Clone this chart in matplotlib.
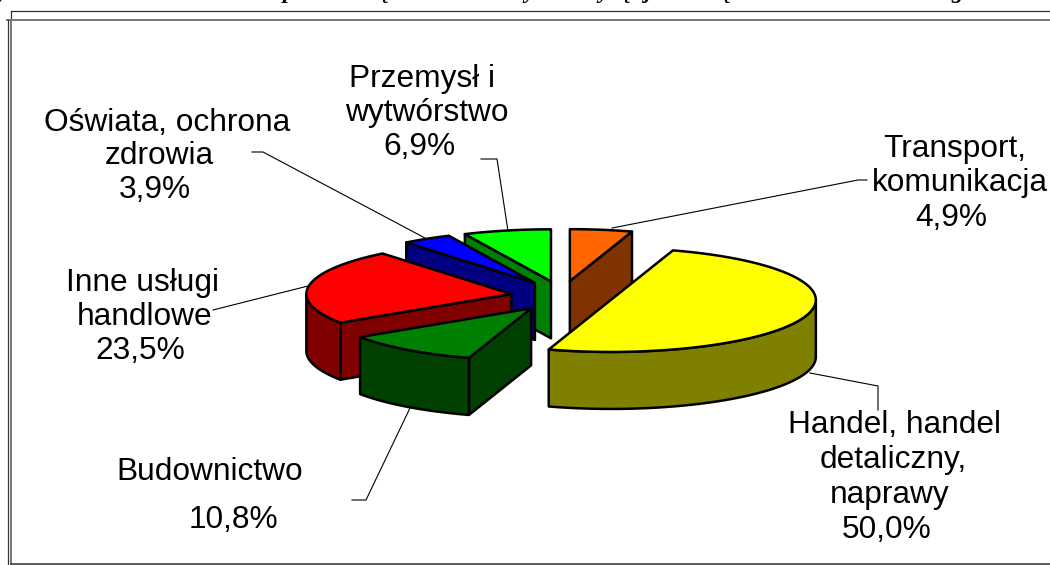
#-*- coding:utf-8 -*-

import numpy as np
import matplotlib
matplotlib.use("Agg")
import matplotlib.pyplot as plt
from matplotlib.patches import Polygon
from matplotlib.colors import to_rgb

# data, clockwise from 12 o'clock
names = [["Transport,", "komunikacja"], ["Handel, handel", "detaliczny,", "naprawy"], ["Budownictwo"],
         ["Inne usługi", "handlowe"], ["Oświata, ochrona", "zdrowia"], ["Przemysł i", "wytwórstwo"]]
values = [4.9, 50.0, 10.8, 23.5, 3.9, 6.9]

# the chart's clipped heading, only the tails of these letters show
title_chars = ["y", "p", "ę", "y", "y", "ę", "j", "ę", "g"]

# style
colors = ["#FF6600", "#FFFF00", "#008000", "#FF0000", "#0000FF", "#00FF00"]
draw_order = [0, 5, 4, 3, 2, 1]
explode = [0.25, 0.25, 0.25, 0.25, 0.25, 0.25]
nudge_y = [-2, 0, 2, 0, -2, -2]
pie_x, pie_y = 562, 296
rx, ry = 205, 52
depth = 57
edge_lw = 1.8

# centre x of every label line, baseline of the first line
label_x = [[955, 960, 951], [895, 893, 890, 887], [210, 233], [142, 145, 140], [167, 159, 155], [422, 427, 419]]
label_y = [157, 433, 480, 291, 131, 87]
line_gap = [34.5, 35, 48, 34, 33.5, 34]
leaders = [[(612, 228), (858, 180), (867, 180)],
           [(810, 373), (878, 386), (878, 410)],
           [(410, 408), (366, 500), (352, 500)],
           [(308, 286), (213, 310)],
           [(425, 238), (263, 152), (252, 152)],
           [(508, 231), (497, 159), (481, 159)]]
title_x = [3, 289, 384, 530, 604, 626, 647, 726, 957]

plt.rcParams['font.family'] = ['Liberation Sans', 'DejaVu Sans']


def pct(v):
    return "{0:.1f}".format(v).replace(".", ",") + "%"


def ell(cx, cy, deg):
    t = np.radians(deg)
    return cx + rx * np.sin(t), cy - ry * np.cos(t)


def side(pts, color):
    # extrude a path on the top face downward
    pts = np.array(pts)
    low = pts[::-1] + [0, depth]
    ax.add_patch(Polygon(np.vstack([pts, low]), closed=True, fc=color, ec="k",
                         lw=edge_lw, joinstyle="round"))


def draw_slice(i, a1, a2):
    mid = (a1 + a2) / 2.0
    cx, cy = ell(pie_x, pie_y, mid)
    cx = pie_x + explode[i] * (cx - pie_x)
    cy = pie_y + explode[i] * (cy - pie_y) + nudge_y[i]
    top = to_rgb(colors[i])
    dark = tuple(c * 0.5 for c in top)

    # radial faces turned towards the viewer
    if np.sin(np.radians(a1)) < 0:
        side([(cx, cy), ell(cx, cy, a1)], dark)
    if np.sin(np.radians(a2)) > 0:
        side([(cx, cy), ell(cx, cy, a2)], dark)
    # outer rim, front half only
    lo, hi = max(a1, 90), min(a2, 270)
    if hi > lo:
        side([ell(cx, cy, a) for a in np.linspace(lo, hi, 60)], dark)
    # top face
    arc = [ell(cx, cy, a) for a in np.linspace(a1, a2, 120)]
    ax.add_patch(Polygon([(cx, cy)] + arc, closed=True, fc=top, ec="k",
                         lw=edge_lw, joinstyle="round"))


fig = plt.figure(figsize=(10.5, 5.65), dpi=100)
ax = fig.add_axes([0, 0, 1, 1])
ax.set_xlim(0, 1050)
ax.set_ylim(565, 0)
ax.axis("off")

# frame lines
ax.plot([10.5, 1050], [10.5, 10.5], color="#333333", lw=0.9)
ax.plot([10.5, 10.5], [10.5, 20], color="#333333", lw=0.9)
ax.plot([7, 1050], [20, 20], color="#777777", lw=1.4)
ax.plot([7.5, 7.5], [20, 565], color="#333333", lw=0.9)
ax.plot([10.8, 10.8], [20, 565], color="#777777", lw=1.4)
ax.plot([10.5, 1050], [564, 564], color="#333333", lw=1.1)

for ch, x in zip(title_chars, title_x):
    ax.text(x, -2, ch, family=["Liberation Serif"], style="italic", weight="bold",
            fontsize=17, ha="center", va="baseline", clip_on=True)

edges = np.concatenate([[0], np.cumsum(values)]) / np.sum(values) * 360.0

for line in leaders:
    xs = [p[0] for p in line]
    ys = [p[1] for p in line]
    ax.plot(xs, ys, color="k", lw=0.8)

for i in draw_order:
    draw_slice(i, edges[i], edges[i + 1])

for i in range(len(names)):
    lines = names[i] + [pct(values[i])]
    for j in range(len(lines)):
        ax.text(label_x[i][j], label_y[i] + j * line_gap[i], lines[j], fontsize=22.8,
                ha="center", va="baseline")

fig.savefig("out.png", dpi=100)
